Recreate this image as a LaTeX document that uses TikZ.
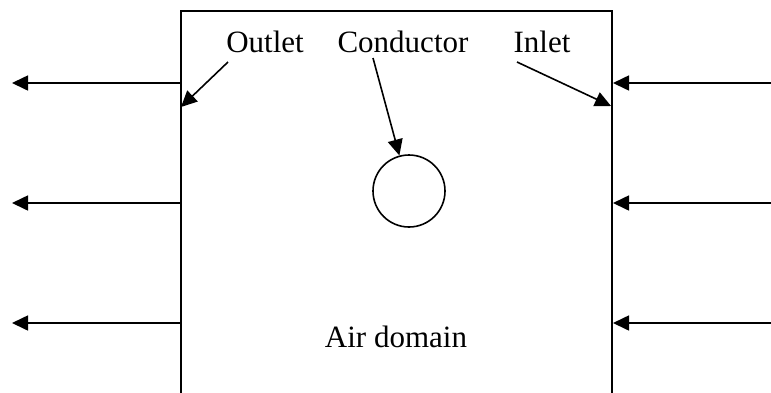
\documentclass[tikz,border=0pt]{standalone}
\usepackage{fontspec}
\setmainfont{Liberation Serif}
\usetikzlibrary{arrows.meta}
\begin{document}
\begin{tikzpicture}[x=1pt,y=-1pt,
  flow/.style={line width=1.6pt,-{Triangle[length=16pt,width=15pt]}},
  lbl/.style={font=\fontsize{31}{36}\selectfont,anchor=base,inner sep=0pt},
  wall/.style={line width=2pt}]
\useasboundingbox (0,0) rectangle (771,392);
% domain box (open at bottom)
\coordinate (bl) at (181,393);
\coordinate (tl) at (181,11);
\coordinate (tr) at (612,11);
\coordinate (br) at (612,393);
\draw[wall] (bl) -- (tl) -- (tr) -- (br);
% conductor
\node[draw,circle,line width=1.6pt,minimum size=72pt,inner sep=0pt] (cond) at (409,191) {};
% labels
\node[lbl] (outlet) at (265,52) {Outlet};
\node[lbl] (conductor) at (403,52) {Conductor};
\node[lbl] (inlet) at (542,52) {Inlet};
\node[lbl] (air) at (396,347) {Air domain};
% label pointers
\coordinate (o1) at (228,62);
\coordinate (o2) at (181,107);
\coordinate (c1) at (373,58);
\coordinate (i1) at (517,62);
\coordinate (i2) at (611,106);
\draw[flow] (o1) -- (o2);
\draw[flow] (c1) -- (cond);
\draw[flow] (i1) -- (i2);
% outlet flow arrows
\foreach \y/\n in {83/a,203/b,323/c}{
  \coordinate (L\n s) at (181,\y);
  \coordinate (L\n e) at (12,\y);
  \draw[flow] (L\n s) -- (L\n e);
  \coordinate (R\n s) at (771,\y);
  \coordinate (R\n e) at (613,\y);
  \draw[flow] (R\n s) -- (R\n e);
}
\end{tikzpicture}
\end{document}
